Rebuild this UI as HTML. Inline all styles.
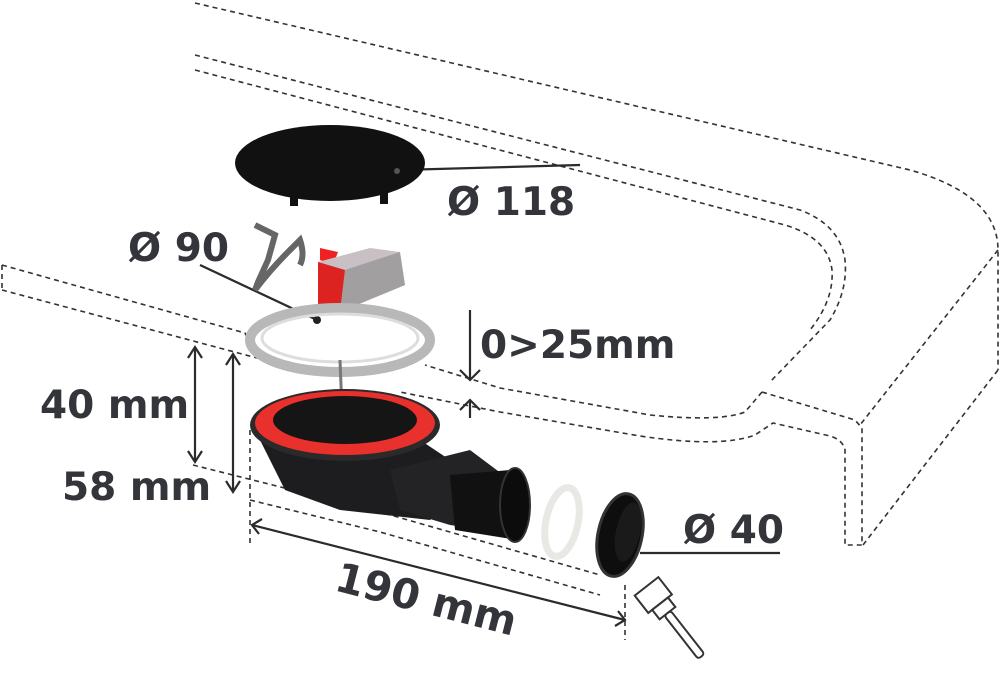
<!DOCTYPE html>
<html><head><meta charset="utf-8"><style>
html,body{margin:0;padding:0;background:#fff;}
svg{display:block;}
text{font-family:"DejaVu Sans","Liberation Sans",sans-serif;font-weight:bold;fill:#33353a;}
</style></head><body>
<svg width="1000" height="680" viewBox="0 0 1000 680" xmlns="http://www.w3.org/2000/svg">
<g fill="none" stroke="#333" stroke-width="1.6" stroke-dasharray="5,4">
<path d="M195,3 L910,170 Q998,195 998,250 L998,370"/>
<path d="M998,250 L860,425"/>
<path d="M998,370 L863,545"/>
<path d="M195,55 L800,210 Q840,225 845,260 Q848,290 830,320 L770,382"/>
<path d="M195,70 L785,225 Q828,238 832,270 Q834,300 810,330"/>
<path d="M762,392 L855,420 L862,428 L862,545 L845,545 L845,450 Q843,440 830,436 L773,423 L755,435 Q720,448 640,436 L500,412 L400,392"/>
<path d="M762,392 L745,412 Q720,422 650,415 L500,388 L425,365"/>
<path d="M2,265 L2,290 M2,265 L245,333 L257,358"/>
<path d="M2,290 L257,358"/>
<path d="M193,465 L380,512 L600,575"/>
<path d="M250,500 L380,532 L600,595"/>
<path d="M250,430 L250,545"/>
<path d="M625,585 L625,640"/>
</g>
<g stroke="#2b2b2b" stroke-width="2.2" fill="none">
<line x1="195" y1="347" x2="195" y2="462"/>
<path d="M188,358 L195,347 L202,358 M188,451 L195,462 L202,451"/>
<line x1="233" y1="354" x2="233" y2="492"/>
<path d="M226,365 L233,354 L240,365 M226,481 L233,492 L240,481"/>
<line x1="470" y1="310" x2="470" y2="380"/>
<path d="M460,370 L470,380 L480,370"/>
<line x1="470" y1="400" x2="470" y2="418"/>
<path d="M460,410 L470,400 L480,410"/>
<line x1="252" y1="525" x2="625" y2="620"/>
<path d="M262,519 L252,525 L259,534 M615,626 L625,620 L618,611"/>
<line x1="400" y1="170" x2="580" y2="165"/>
<line x1="200" y1="265" x2="317" y2="320"/>
<line x1="640" y1="553" x2="780" y2="553"/>
</g>
<circle cx="317" cy="320" r="4" fill="#222"/>
<ellipse cx="330" cy="163" rx="95" ry="38" fill="#111"/>
<rect x="290" y="190" width="8" height="16" fill="#111"/>
<rect x="380" y="190" width="8" height="14" fill="#111"/>
<circle cx="397" cy="171" r="3" fill="#555"/>
<path d="M255,225 L275,235 L268,260 L258,282 L255,290 Q270,270 290,250 L300,240 Q305,255 300,265" fill="none" stroke="#666" stroke-width="6"/>
<path d="M320,248 L338,252 L333,265 L320,260Z" fill="#e22"/>
<path d="M318,262 L370,248 L400,252 L405,285 L340,312 L318,305Z" fill="#c8c0c4"/>
<path d="M318,262 L345,270 L340,312 L318,305Z" fill="#dd2222"/>
<path d="M345,270 L400,252 L405,285 L340,312Z" fill="#888" opacity="0.6"/>
<ellipse cx="340" cy="340" rx="90" ry="32" fill="none" stroke="#b8b8b8" stroke-width="10"/>
<ellipse cx="340" cy="338" rx="78" ry="24" fill="none" stroke="#ddd" stroke-width="3"/>
<line x1="340" y1="360" x2="342" y2="410" stroke="#777" stroke-width="3"/>
<path d="M260,440 L285,490 L340,510 L430,520 L450,500 L450,460 L420,440 Z" fill="#1d1d1f"/>
<path d="M390,470 L470,450 L510,480 L520,535 L450,525 L400,510Z" fill="#232325"/>
<path d="M450,475 L510,470 L518,540 L455,530Z" fill="#111"/>
<ellipse cx="515" cy="505" rx="15" ry="37" fill="#0c0c0c" stroke="#333" stroke-width="2"/>
<ellipse cx="345" cy="425" rx="95" ry="36" fill="#2a2a2a"/>
<ellipse cx="345" cy="423" rx="90" ry="32" fill="#e8302d"/>
<ellipse cx="345" cy="420" rx="72" ry="24" fill="#151515"/>
<ellipse cx="562" cy="522" rx="16" ry="35" fill="none" stroke="#e8e8e4" stroke-width="7" transform="rotate(12 562 522)"/>
<ellipse cx="620" cy="535" rx="22" ry="42" fill="#0e0e0e" stroke="#333" stroke-width="3" transform="rotate(12 620 535)"/>
<ellipse cx="628" cy="532" rx="12" ry="30" fill="#1a1a1a" transform="rotate(12 628 532)"/>
<g transform="rotate(-38 665 610)" fill="#fff" stroke="#333" stroke-width="2">
<rect x="650" y="580" width="30" height="22"/>
<rect x="655" y="602" width="20" height="12"/>
<rect x="661" y="614" width="8" height="55" rx="3"/>
</g>
<text x="447" y="215" font-size="39">Ø 118</text>
<text x="128" y="261" font-size="39">Ø 90</text>
<text x="480" y="358" font-size="39">0&gt;25mm</text>
<text x="40" y="418" font-size="39">40 mm</text>
<text x="62" y="500" font-size="39">58 mm</text>
<text x="683" y="543" font-size="39">Ø 40</text>
<text x="0" y="0" font-size="41" transform="translate(333,590) rotate(14.3)">190 mm</text>
</svg>
</body></html>
